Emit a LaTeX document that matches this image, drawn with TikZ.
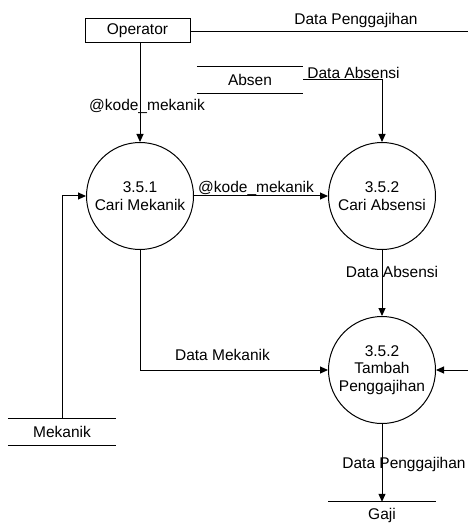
\documentclass[tikz,border=0pt]{standalone}
\usepackage{fontspec}
\setmainfont{Liberation Sans}
\usetikzlibrary{arrows.meta}
\begin{document}
\begin{tikzpicture}[x=1pt,y=-1pt,
  every node/.style={font=\fontsize{15.5}{17.5}\selectfont},
  proc/.style={circle,draw,line width=1pt,minimum size=107pt,inner sep=0pt,align=center},
  ent/.style={draw,line width=1pt,minimum width=105pt,minimum height=24pt,inner sep=0pt},
  store/.style={minimum width=#1,minimum height=26pt,inner sep=0pt},
  flow/.style={line width=1pt,-{Triangle[length=8pt,width=7pt]}},
  wire/.style={line width=1pt},
  lbl/.style={inner sep=0pt}]
\useasboundingbox (0,0) rectangle (467,526);

% external entity and data stores
\node[ent] (op) at (137.5,31) {Operator};
\node[store=106pt] (absen) at (250,80) {Absen};
\node[store=108pt] (mek) at (62,432) {Mekanik};
\node[store=107pt] (gaji) at (382,515) {Gaji};
\draw[wire] (absen.north west) -- (absen.north east)
            (absen.south west) -- (absen.south east);
\draw[wire] (mek.north west) -- (mek.north east)
            (mek.south west) -- (mek.south east);
\draw[wire] (gaji.north west) -- (gaji.north east);

% processes
\node[proc] (p1) at (140,196) {3.5.1\\Cari Mekanik};
\node[proc] (p2) at (382,196) {3.5.2\\Cari Absensi};
\node[proc] (p3) at (382,370) {3.5.2\\Tambah\\Penggajihan};

% off-page turning points of the salary flow
\coordinate (rt) at (480,31.5);
\coordinate (rb) at (480,370);

% data flows
\draw[flow] (p1.north |- op.south) -- (p1.north);
\draw[flow] (absen.east) -| (p2.north);
\draw[flow] (p1.east) -- (p2.west);
\draw[flow] (p2.south) -- (p3.north);
\draw[flow] (p1.south) |- (p3.west);
\draw[flow] (mek.north) |- (p1.west);
\draw[flow] (p3.south) -- (gaji.north);
\draw[wire] (op.east |- rt) -- (rt) -- (rb);
\draw[flow] (rb) -- (p3.east);

% flow labels
\node[lbl] (l1) at (356,20) {Data Penggajihan};
\node[lbl] (l2) at (353.5,73) {Data Absensi};
\node[lbl] (l3) at (147,106) {@kode\_mekanik};
\node[lbl] (l4) at (256,188) {@kode\_mekanik};
\node[lbl] (l5) at (392,272) {Data Absensi};
\node[lbl] (l6) at (222.5,355) {Data Mekanik};
\node[lbl] (l7) at (404,464) {Data Penggajihan};
\end{tikzpicture}
\end{document}
